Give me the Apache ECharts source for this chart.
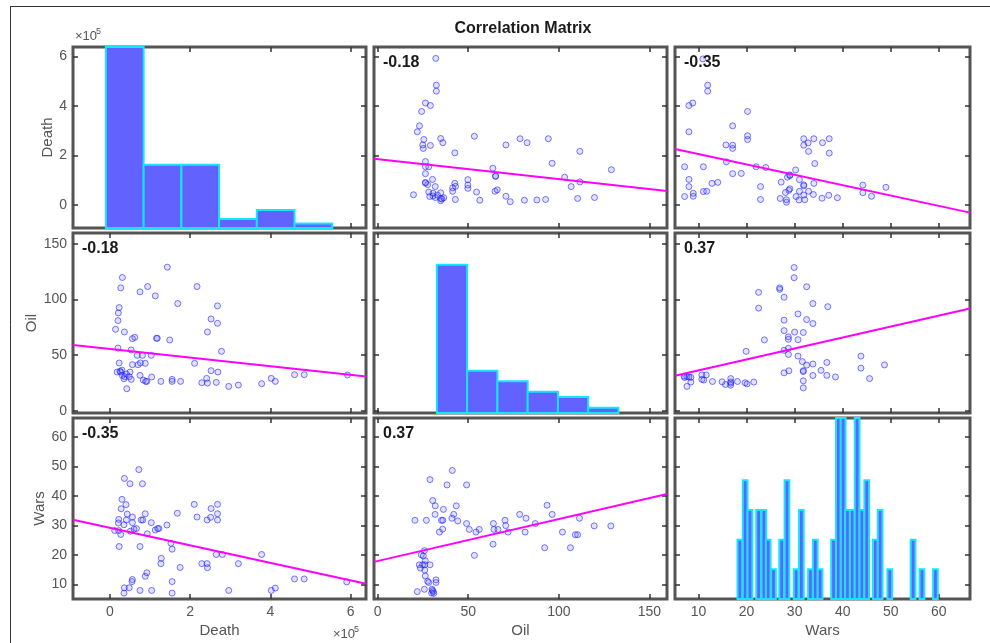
<!DOCTYPE html>
<html>
<head>
<meta charset="utf-8">
<title>Correlation Matrix</title>
<script src="https://cdn.jsdelivr.net/npm/echarts@6/dist/echarts.min.js"></script>
<style>
  html, body { margin: 0; padding: 0; background: #fff; }
  #chart { width: 990px; height: 643px; }
</style>
</head>
<body>
<div id="chart"></div>
<script>
// variables of the matrix (Death is in units of 10^5)
const varNames = ['Death', 'Oil', 'Wars'];
const varRanges = [[-0.92, 6.38], [-2, 159.7], [5.1, 66.5]];
const varTicks = [[0, 2, 4, 6], [0, 50, 100, 150], [10, 20, 30, 40, 50, 60]];

const deathOil = [
  [1.43, 129], [0.31, 119.7], [0.27, 110.4], [0.94, 111.6], [0.75, 106.8], [1.13, 103.2], [2.17, 111.6],
  [1.69, 96.3], [0.23, 92.7], [0.21, 87.9], [2.68, 94.2], [0.20, 81], [2.52, 82.5], [0.14, 73.2],
  [0.36, 70.8], [2.43, 70.8], [2.68, 78.6], [0.56, 64.8], [0.62, 66], [1.16, 65.1], [1.18, 65.1],
  [1.49, 63.6], [0.2, 56.4], [0.53, 54.6], [2.78, 53.4], [0.68, 49.8], [0.81, 49.8], [1.03, 49.8],
  [0.23, 42.9], [0.56, 41.4], [0.7, 41.4], [0.88, 42.6], [0.76, 43], [2.11, 42.6], [0.18, 34.8],
  [0.27, 34.8], [0.5, 34.8], [2.52, 36], [2.69, 34.8], [0.31, 31.8], [0.41, 33], [0.37, 30.6],
  [0.35, 28.8], [0.48, 30.6], [0.75, 31.8], [1.04, 30.3], [0.53, 28.2], [0.83, 27.6], [0.89, 26.4],
  [0.92, 26.4], [1.55, 28.2], [1.55, 26.4], [1.27, 26.4], [1.76, 26.4], [2.41, 29.1], [2.43, 24.9],
  [2.29, 25.2], [2.65, 25.5], [2.96, 21.9], [3.2, 23.1], [3.78, 24.3], [4.02, 29.1], [4.12, 26.4],
  [4.6, 32.4], [4.84, 32.4], [5.92, 32.1], [0.42, 19.8], [0.25, 35.5], [0.3, 36.5]
];
const deathWars = [
  [0.72, 49], [0.36, 46], [0.5, 44.2], [0.81, 44.2], [0.3, 38.9], [0.4, 37.1], [0.28, 35.7],
  [2.1, 37.2], [2.68, 37.2], [0.43, 33.9], [0.88, 34], [1.68, 34.2], [2.52, 35.8], [2.68, 34],
  [0.22, 32.1], [0.41, 31.9], [0.56, 32.9], [0.78, 31.9], [0.82, 31.9], [2.17, 32.9], [2.42, 31.9],
  [2.51, 32.8], [2.68, 31.9], [0.21, 30.9], [0.35, 30.3], [0.56, 31], [1.03, 31], [1.42, 30.2],
  [0.12, 28.3], [0.22, 28.3], [0.51, 28.1], [0.6, 28.8], [0.66, 29], [1.13, 28.5], [1.19, 29],
  [1.22, 29], [0.27, 27], [0.93, 27.2], [0.23, 22.9], [0.75, 22.9], [1.52, 24], [1.55, 22],
  [1.28, 18.9], [1.27, 17.1], [1.75, 15.8], [2.29, 17.1], [2.42, 17.1], [2.43, 15.7], [2.65, 20.2],
  [2.8, 20.2], [3.78, 20.2], [3.2, 17.1], [4.6, 11.9], [4.84, 11.9], [5.9, 10.9], [0.36, 8.9],
  [0.48, 8.9], [0.55, 11], [0.56, 11.7], [0.88, 12.8], [0.92, 14], [1.55, 11], [0.35, 7.1],
  [0.75, 8], [1.04, 8], [1.55, 7.1], [2.96, 8], [4.02, 8], [4.12, 8.8]
];
const oilWars = [
  [41.2, 48.7], [28.9, 45.6], [38.3, 43.8], [49.1, 43.8], [30.4, 38.5], [31.8, 36.7], [43.4, 36.7],
  [93.5, 36.9], [36.3, 35.5], [31.7, 33.8], [42, 33.8], [96.3, 33.8], [20.6, 31.8], [26.9, 31.8],
  [35.2, 31.8], [36, 31.8], [41, 32.5], [44.2, 31.6], [49.1, 30.7], [63.9, 30.7], [70.3, 31.8],
  [81.9, 32.5], [78.4, 33.8], [87, 30.7], [111.4, 32.5], [35.9, 28.8], [34.1, 27.8], [50.6, 28.7],
  [54.3, 27.8], [56.1, 28.7], [64.2, 28.7], [66.4, 28.7], [70.7, 30], [72, 27.8], [81.4, 27.8],
  [102, 27.8], [109.1, 26.9], [110.4, 26.9], [119.5, 29.9], [128.7, 29.9], [63.7, 23.7], [92.2, 22.5],
  [106.4, 22.5], [53.4, 19.9], [25.8, 21.5], [24.1, 20.1], [25.2, 19.7], [26.3, 18.1], [23, 16.7],
  [24.8, 16.7], [26, 16.7], [28.9, 16.7], [23.6, 15.6], [26, 14.9], [26.3, 12.9], [27.6, 11.1],
  [28.2, 10.7], [32.2, 11.6], [32.2, 10.7], [25.8, 8.4], [21.9, 7.6], [30, 8.4], [30.7, 7.6],
  [29.8, 7.1], [31, 7], [30.3, 8]
];

// correlation coefficients
const corrDeathOil = -0.18;
const corrDeathWars = -0.35;
const corrOilWars = 0.37;

// least-squares lines, end points as [x, y]
const fitOilDeath = [[-2, 1.87], [159.7, 0.57]];
const fitWarsDeath = [[5.1, 2.27], [66.5, -0.3]];
const fitDeathOil = [[-0.92, 59], [6.38, 30.8]];
const fitWarsOil = [[5.1, 31.4], [66.5, 91.9]];
const fitDeathWars = [[-0.92, 32], [6.38, 10.3]];
const fitOilWars = [[-2, 17.7], [159.7, 40.7]];

// histograms on the diagonal
const deathHistEdges = [-0.1, 0.84, 1.78, 2.72, 3.66, 4.6, 5.54];
const deathHistCounts = [46, 14, 14, 2, 4, 1];
const oilHistEdges = [32.7, 49.4, 66.1, 82.8, 99.5, 116.2, 132.9];
const oilHistCounts = [28, 8, 6, 4, 3, 1];
const warsHistCenters = [18.6, 19.7, 20.7, 22.5, 23.6, 24.5, 25.6, 27.3, 28.4, 30.3, 31.4, 33.3, 34.3, 35.3,
  38.1, 39.1, 40.1, 41.0, 42.0, 43.0, 44.0, 45.0, 46.8, 47.8, 49.8, 54.65, 56.5, 59.3];
const warsHistCounts = [2, 4, 3, 3, 3, 2, 1, 2, 4, 1, 3, 1, 2, 1,
  2, 7, 7, 3, 3, 7, 3, 4, 2, 3, 1, 2, 1, 1];
const warsBinWidth = 0.98;

const FONT = '"Liberation Sans", Arial, sans-serif';
const colX = [[73, 366], [374, 667], [675, 970]];
const rowY = [[47, 228], [233, 413], [418, 599]];
const yNameGaps = [18, 33, 26];
const histMax = [40, 34, 6.1];

function binsFromEdges(edges, counts) {
  return counts.map((n, i) => [edges[i], edges[i + 1], n]);
}
const histData = [
  binsFromEdges(deathHistEdges, deathHistCounts),
  binsFromEdges(oilHistEdges, oilHistCounts),
  warsHistCenters.map((c, i) => [c - warsBinWidth / 2, c + warsBinWidth / 2, warsHistCounts[i]])
];

const pairs = { '0-1': deathOil, '0-2': deathWars, '1-2': oilWars };
const corrs = { '0-1': corrDeathOil, '0-2': corrDeathWars, '1-2': corrOilWars };
// fits[row][col]: x variable = col, y variable = row
const fits = [
  [null, fitOilDeath, fitWarsDeath],
  [fitDeathOil, null, fitWarsOil],
  [fitDeathWars, fitOilWars, null]
];

function makeAxis(v, g, pos, labelled, isY) {
  const axis = {
    gridIndex: g,
    type: 'value',
    position: pos,
    min: varRanges[v][0],
    max: varRanges[v][1],
    splitLine: { show: false },
    axisLine: { show: false, onZero: false },
    axisTick: { show: true, inside: true, length: 5, customValues: varTicks[v], lineStyle: { color: '#333', width: 1.5 } },
    axisLabel: { show: labelled, customValues: varTicks[v], color: '#555', fontSize: 14, fontFamily: FONT, margin: 6 }
  };
  if (labelled) {
    axis.name = varNames[v];
    axis.nameLocation = 'middle';
    axis.nameGap = isY ? yNameGaps[v] : 24;
    axis.nameTextStyle = { color: '#555', fontSize: 15, fontFamily: FONT };
  }
  return axis;
}

const grids = [], xAxes = [], yAxes = [], series = [], graphics = [];

for (let r = 0; r < 3; r++) {
  for (let c = 0; c < 3; c++) {
    const g = grids.length;
    grids.push({
      show: true,
      left: colX[c][0], top: rowY[r][0],
      width: colX[c][1] - colX[c][0], height: rowY[r][1] - rowY[r][0],
      borderColor: '#555', borderWidth: 3, backgroundColor: '#fff'
    });
    const xi = xAxes.length;
    xAxes.push(makeAxis(c, g, 'bottom', r === 2, false));
    xAxes.push(makeAxis(c, g, 'top', false, false));
    const yi = yAxes.length;
    yAxes.push(makeAxis(r, g, 'left', c === 0, true));
    yAxes.push(makeAxis(r, g, 'right', false, true));

    if (r === c) {
      const hi = yAxes.length;
      yAxes.push({ gridIndex: g, type: 'value', min: 0, max: histMax[r], show: false });
      series.push({
        type: 'custom',
        xAxisIndex: xi,
        yAxisIndex: hi,
        data: histData[r],
        encode: { x: [0, 1], y: 2 },
        silent: true,
        renderItem: function (params, api) {
          const p0 = api.coord([api.value(0), 0]);
          const p1 = api.coord([api.value(1), api.value(2)]);
          const cs = params.coordSys;
          const shape = echarts.graphic.clipRectByRect(
            { x: p0[0], y: p1[1], width: p1[0] - p0[0], height: p0[1] - p1[1] },
            { x: cs.x, y: cs.y, width: cs.width, height: cs.height }
          );
          return shape && {
            type: 'rect',
            shape: shape,
            style: { fill: '#6262ff', stroke: '#14e6ff', lineWidth: 2 }
          };
        }
      });
    } else {
      const key = Math.min(r, c) + '-' + Math.max(r, c);
      const raw = pairs[key];
      const data = c < r ? raw : raw.map(p => [p[1], p[0]]);
      series.push({
        type: 'scatter',
        xAxisIndex: xi,
        yAxisIndex: yi,
        data: data,
        symbol: 'circle',
        symbolSize: 6,
        silent: true,
        itemStyle: { color: 'rgba(90,90,255,0.22)', borderColor: 'rgba(20,20,255,0.7)', borderWidth: 1 }
      });
      series.push({
        type: 'line',
        xAxisIndex: xi,
        yAxisIndex: yi,
        data: fits[r][c],
        showSymbol: false,
        clip: true,
        silent: true,
        lineStyle: { color: '#ff00ff', width: 2 }
      });
      graphics.push({
        type: 'text',
        left: colX[c][0] + 9,
        top: rowY[r][0] + 8,
        z: 50,
        style: { text: corrs[key].toFixed(2), font: 'bold 16px ' + FONT, fill: '#1a1a1a' }
      });
    }
  }
}

// figure frame, title and the x10^5 exponents
graphics.push(
  { type: 'line', shape: { x1: 10, y1: 6.5, x2: 990, y2: 6.5 }, style: { stroke: '#333', lineWidth: 1 } },
  { type: 'line', shape: { x1: 10.5, y1: 6, x2: 10.5, y2: 643 }, style: { stroke: '#333', lineWidth: 1 } },
  { type: 'text', x: 523, y: 29, style: { text: 'Correlation Matrix', font: 'bold 16px ' + FONT, fill: '#1a1a1a', align: 'center', verticalAlign: 'middle' } },
  { type: 'text', x: 75, y: 43, style: { text: '\u00d710', font: '13px ' + FONT, fill: '#555', verticalAlign: 'bottom' } },
  { type: 'text', x: 96, y: 36, style: { text: '5', font: '9px ' + FONT, fill: '#555', verticalAlign: 'bottom' } },
  { type: 'text', x: 333, y: 641, style: { text: '\u00d710', font: '13px ' + FONT, fill: '#555', verticalAlign: 'bottom' } },
  { type: 'text', x: 354, y: 634, style: { text: '5', font: '9px ' + FONT, fill: '#555', verticalAlign: 'bottom' } }
);

const chart = echarts.init(document.getElementById('chart'));
chart.setOption({
  animation: false,
  backgroundColor: '#fff',
  grid: grids,
  xAxis: xAxes,
  yAxis: yAxes,
  series: series,
  graphic: graphics
});
</script>
</body>
</html>
